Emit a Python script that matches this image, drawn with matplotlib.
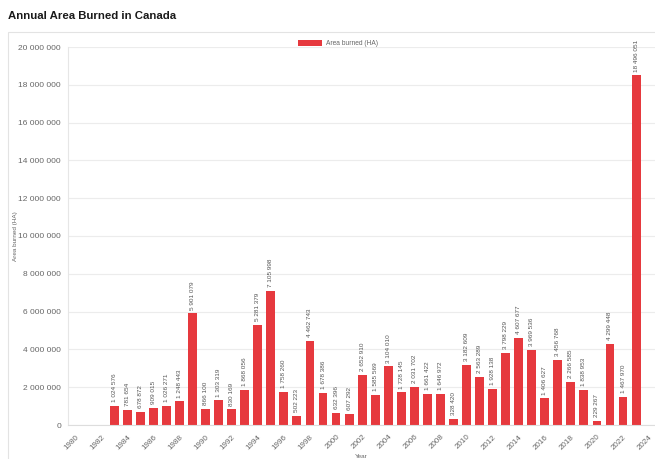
import matplotlib.pyplot as plt
from matplotlib.patches import Rectangle

plt.rcParams['font.family'] = ['Liberation Sans', 'DejaVu Sans']

# yearly area burned in Canada (hectares)
years = list(range(1983, 2024))
area_burned = [
    1024576, 781654, 678872, 909015, 1026271, 1248443, 5901079, 866100,
    1303319, 830169, 1868056, 5281379, 7105998, 1758260, 502223, 4462743,
    1678386, 632396, 607292, 2652910, 1585569, 3104010, 1728145, 2031702,
    1661422, 1646972, 328420, 3182609, 2563289, 1928138, 3798229, 4607677,
    3969536, 1406627, 3456768, 2266585, 1838953, 229267, 4299448, 1467970,
    18496051,
]
year_ticks = list(range(1980, 2025, 2))
y_ticks = list(range(0, 20000001, 2000000))

bar_color = '#e6393e'
text_gray = '#666666'


def fmt(v):
    return f'{v:,}'.replace(',', ' ')


fig = plt.figure(figsize=(6.55, 4.59), dpi=100)

# card border around the chart
fig.patches.append(Rectangle((8 / 655, -0.01), 1.0, 1 - 32 / 459 + 0.01,
                             transform=fig.transFigure, fill=False,
                             edgecolor='#e3e3e3', linewidth=0.8))

fig.text(8 / 655, 1 - 16 / 459, 'Annual Area Burned in Canada',
         fontsize=8.2, fontweight='bold', color='#1a1a1a', va='center',
         ha='left')

ax = fig.add_axes([68 / 655, 1 - 425 / 459, (655 - 68) / 655, (425 - 47) / 459])

ax.bar(years, area_burned, width=0.68, color=bar_color, zorder=2,
       label='Area burned (HA)')

for x, v in zip(years, area_burned):
    ax.text(x, v + 200000, fmt(v), rotation=90, ha='center', va='bottom',
            fontsize=4.6, color='#555555')

ax.set_xlim(1979.45, 2024.45)
ax.set_ylim(0, 20000000)
ax.set_xticks(year_ticks)
ax.set_xticklabels([str(y) for y in year_ticks], rotation=45, ha='right',
                   rotation_mode='anchor', fontsize=5.8, color=text_gray)
ax.set_yticks(y_ticks)
ax.set_yticklabels([fmt(v) for v in y_ticks], fontsize=6.0, color=text_gray)
ax.tick_params(axis='both', length=0, pad=5)
ax.tick_params(axis='x', pad=6)

ax.grid(axis='y', color='#ececec', linewidth=0.8, zorder=0)
for side in ['top', 'right']:
    ax.spines[side].set_visible(False)
ax.spines['left'].set_color('#e6e6e6')
ax.spines['bottom'].set_color('#dddddd')

ax.set_ylabel('Area burned (HA)', fontsize=4.6, color=text_gray)
ax.yaxis.set_label_coords(-0.085, 0.5)
ax.set_xlabel('Year', fontsize=4.6, color=text_gray)
ax.xaxis.set_label_coords(0.5, -0.078)

ax.legend(loc='upper center', bbox_to_anchor=(0.46, 1.035), frameon=False,
          fontsize=4.8, labelcolor=text_gray, handlelength=3.5, handleheight=1.0,
          handletextpad=0.6)

fig.savefig('out.png', dpi=100)
